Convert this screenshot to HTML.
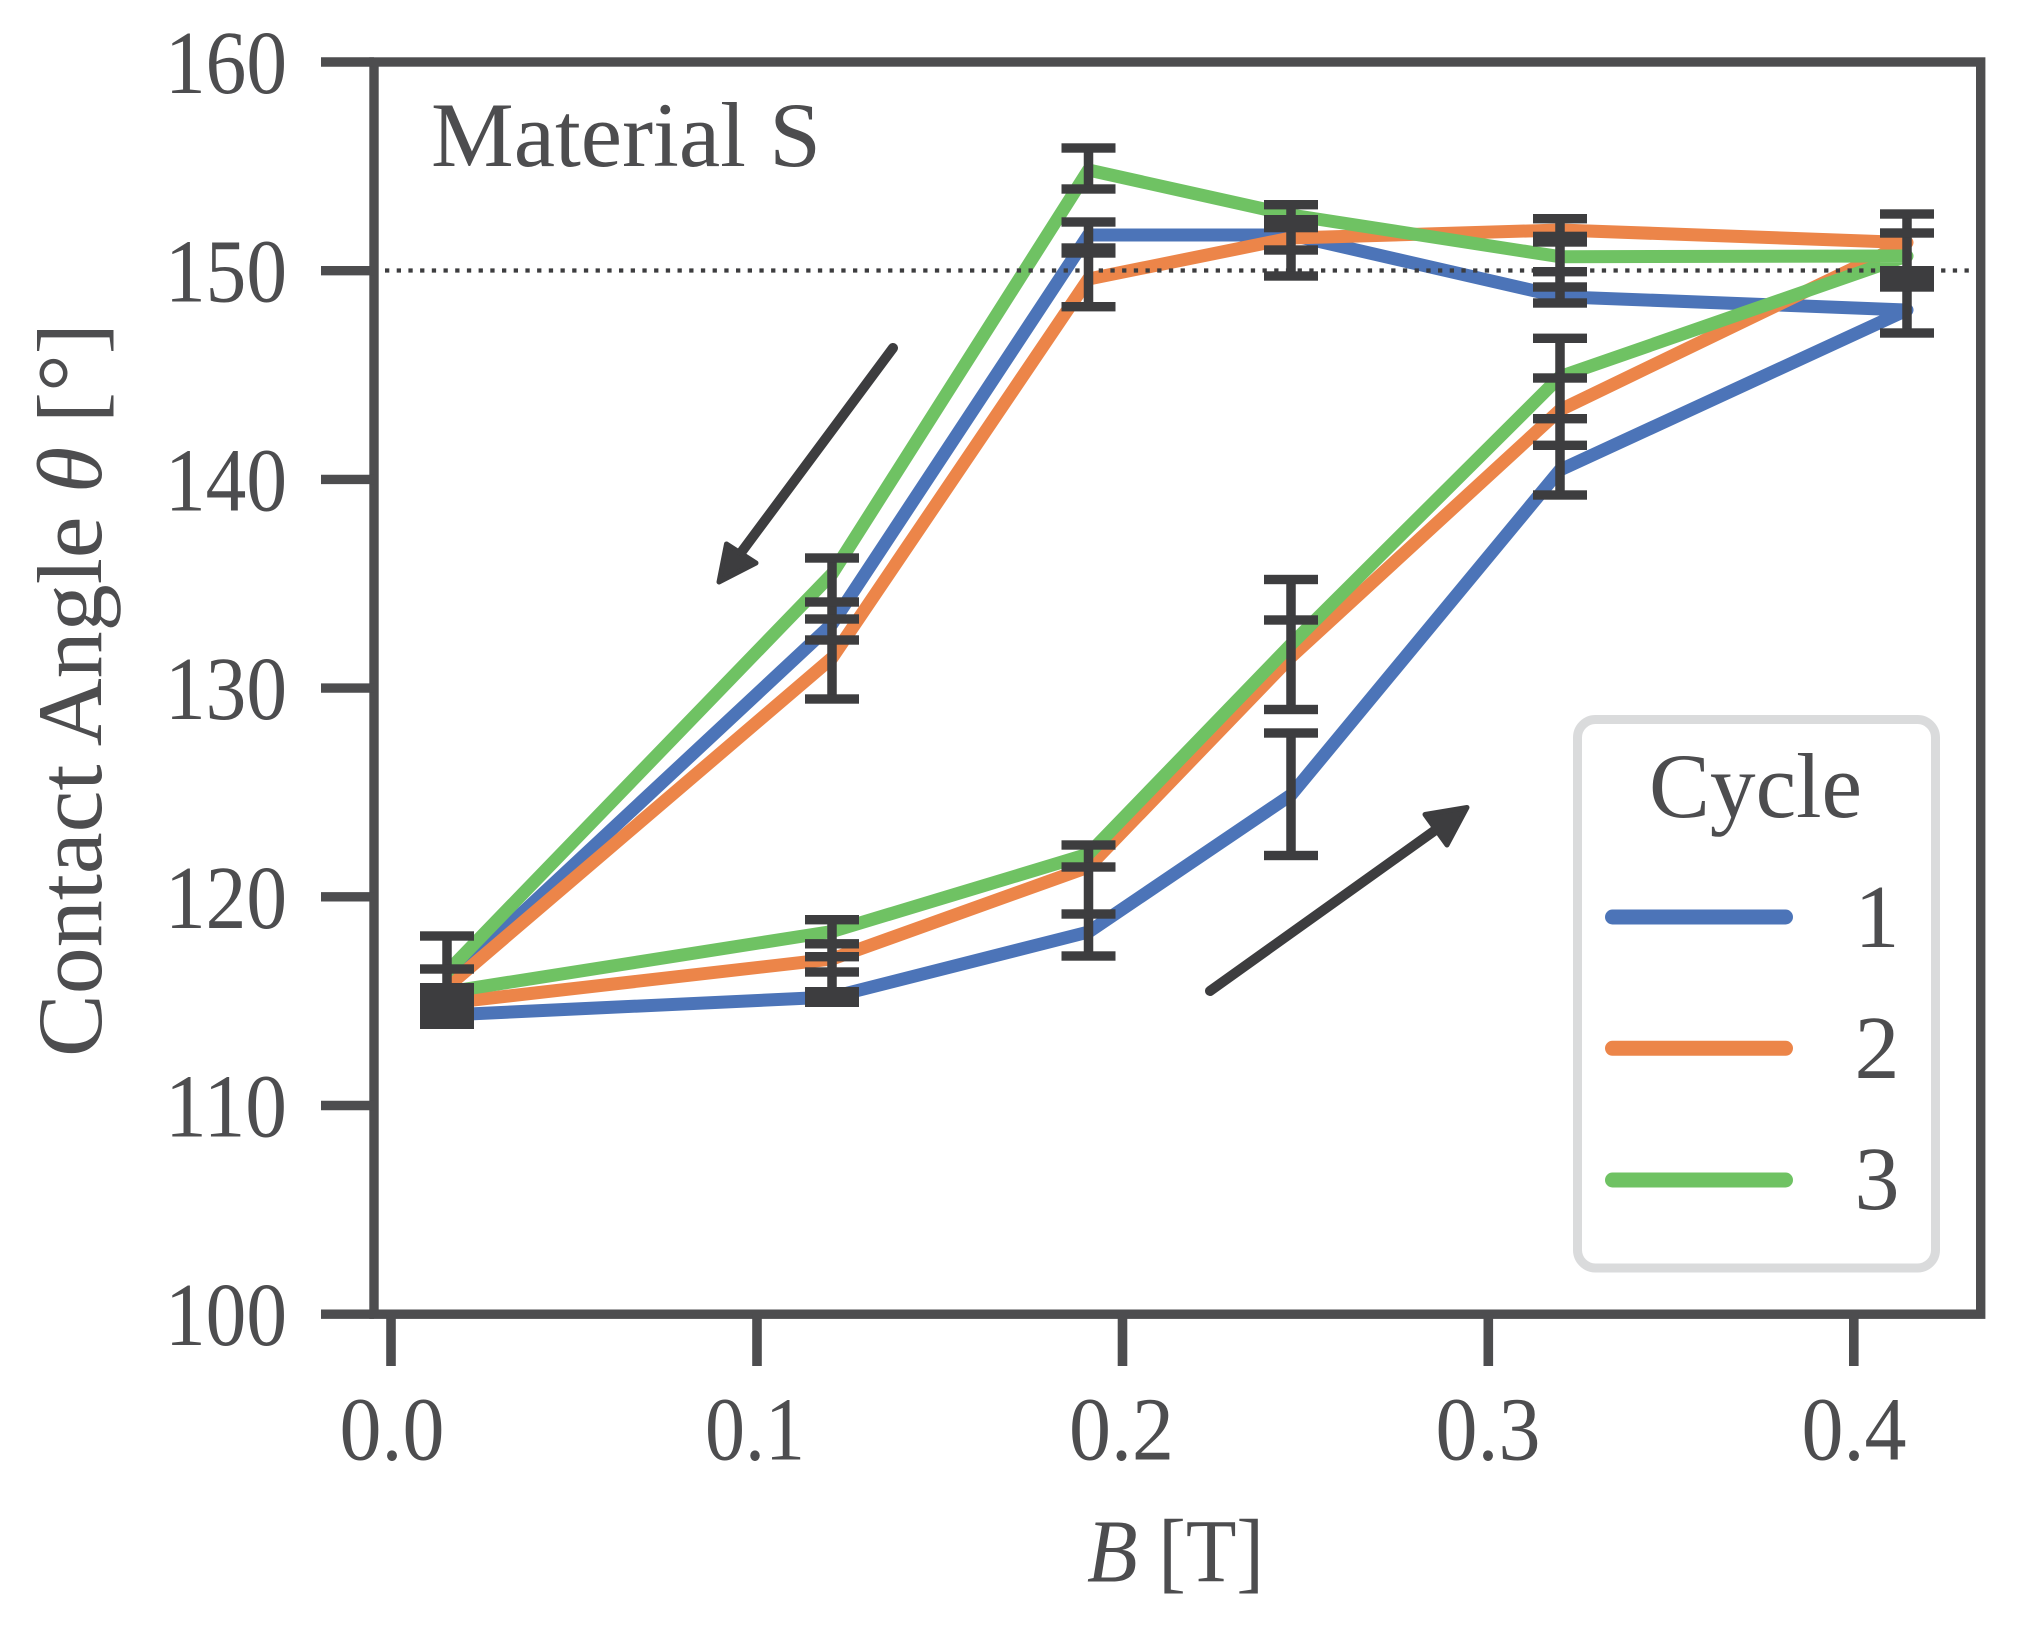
<!DOCTYPE html>
<html>
<head>
<meta charset="utf-8">
<style>
html,body{margin:0;padding:0;background:#fff;}
svg{display:block;}
text{font-family:"Liberation Serif","DejaVu Serif",serif;fill:#4d4d4f;}
</style>
</head>
<body>
<svg width="2019" height="1630" viewBox="0 0 2019 1630" xmlns="http://www.w3.org/2000/svg">
<rect x="0" y="0" width="2019" height="1630" fill="#fff"/>

<!-- data lines -->
<g fill="none" stroke-width="13" stroke-linejoin="round" stroke-linecap="butt">
  <polyline stroke="#4c74b8" points="447,1015 832,997 1088.5,932 1291,795 1560,470 1907,310 1560,296.7 1291,235 1088.5,235 832,624 447,983"/>
  <polyline stroke="#ec8549" points="447,1003 832,959 1088.5,867 1291,657 1560,410 1907,242.5 1560,230 1291,238 1088.5,279 832,658 447,987"/>
  <polyline stroke="#6fc263" points="447,992 832,931.5 1088.5,854 1291,644.5 1560,376.7 1907,256 1560,256.7 1291,215 1088.5,170 832,574 447,972"/>
</g>

<!-- dotted 150 line -->
<line x1="385" y1="270.5" x2="1976" y2="270.5" stroke="#3d3d3f" stroke-width="4.3" stroke-dasharray="4.3 7.4"/>

<!-- error bars -->
<g fill="#3d3d3f" stroke="none">
  <!-- P1 x=447 -->
  <rect x="442.25" y="936" width="9.5" height="93"/>
  <rect x="420" y="931.3" width="54" height="9.4"/>
  <rect x="420" y="964.3" width="54" height="9.4"/>
  <rect x="420" y="983" width="54" height="46"/>
  <!-- P2 upper x=832 -->
  <rect x="827.25" y="558" width="9.5" height="141"/>
  <rect x="805" y="553.3" width="54" height="9.4"/>
  <rect x="805" y="597.3" width="54" height="9.4"/>
  <rect x="805" y="614.3" width="54" height="9.4"/>
  <rect x="805" y="635.3" width="54" height="9.4"/>
  <rect x="805" y="694.3" width="54" height="9.4"/>
  <!-- P2 lower -->
  <rect x="827.25" y="919.7" width="9.5" height="87"/>
  <rect x="805" y="915" width="54" height="9.4"/>
  <rect x="805" y="939.1" width="54" height="9.4"/>
  <rect x="805" y="952" width="54" height="9.4"/>
  <rect x="805" y="967.3" width="54" height="9.4"/>
  <rect x="805" y="987" width="54" height="20"/>
  <!-- P3 upper x=1088.5 -->
  <rect x="1083.75" y="148" width="9.5" height="41"/>
  <rect x="1083.75" y="222" width="9.5" height="84.7"/>
  <rect x="1061.5" y="143.3" width="54" height="9.4"/>
  <rect x="1061.5" y="184.3" width="54" height="9.4"/>
  <rect x="1061.5" y="217.3" width="54" height="9.4"/>
  <rect x="1061.5" y="243.3" width="54" height="14.4"/>
  <rect x="1061.5" y="302" width="54" height="9.4"/>
  <!-- P3 lower -->
  <rect x="1083.75" y="845" width="9.5" height="111"/>
  <rect x="1061.5" y="840.3" width="54" height="9.4"/>
  <rect x="1061.5" y="862.3" width="54" height="9.4"/>
  <rect x="1061.5" y="909.3" width="54" height="9.4"/>
  <rect x="1061.5" y="951.3" width="54" height="9.4"/>
  <!-- P4 upper x=1291 -->
  <rect x="1286.25" y="204.7" width="9.5" height="71.3"/>
  <rect x="1264" y="200" width="54" height="9.4"/>
  <rect x="1264" y="215" width="54" height="17.3"/>
  <rect x="1264" y="245.3" width="54" height="9.4"/>
  <rect x="1264" y="271.3" width="54" height="9.4"/>
  <!-- P4 lower -->
  <rect x="1286.25" y="579.5" width="9.5" height="130"/>
  <rect x="1286.25" y="733" width="9.5" height="122.5"/>
  <rect x="1264" y="574.8" width="54" height="9.4"/>
  <rect x="1264" y="615.3" width="54" height="9.4"/>
  <rect x="1264" y="704.8" width="54" height="9.4"/>
  <rect x="1264" y="728.3" width="54" height="9.4"/>
  <rect x="1264" y="850.8" width="54" height="9.4"/>
  <!-- P5 upper x=1560 -->
  <rect x="1555.25" y="218.7" width="9.5" height="84.3"/>
  <rect x="1533" y="214" width="54" height="9.4"/>
  <rect x="1533" y="231.7" width="54" height="15"/>
  <rect x="1533" y="267" width="54" height="9.4"/>
  <rect x="1533" y="282.3" width="54" height="9.4"/>
  <rect x="1533" y="298.3" width="54" height="9.4"/>
  <!-- P5 lower -->
  <rect x="1555.25" y="338.3" width="9.5" height="156.7"/>
  <rect x="1533" y="333.6" width="54" height="9.4"/>
  <rect x="1533" y="373.3" width="54" height="9.4"/>
  <rect x="1533" y="414" width="54" height="9.4"/>
  <rect x="1533" y="440.6" width="54" height="9.4"/>
  <rect x="1533" y="490.3" width="54" height="9.4"/>
  <!-- P6 x=1907 -->
  <rect x="1902.25" y="214" width="9.5" height="119"/>
  <rect x="1880" y="209.3" width="54" height="9.4"/>
  <rect x="1880" y="228.3" width="54" height="9.4"/>
  <rect x="1880" y="266" width="54" height="25.7"/>
  <rect x="1880" y="328.3" width="54" height="9.4"/>
</g>

<!-- arrows -->
<g stroke="#3d3d3f" fill="#3d3d3f" stroke-linecap="round" stroke-linejoin="round">
  <line x1="893" y1="348" x2="741.5" y2="552" stroke-width="10"/>
  <polygon points="719,582 726.5,544 756,563" stroke-width="5"/>
  <line x1="1210" y1="991" x2="1435.5" y2="830" stroke-width="10"/>
  <polygon points="1467,807.5 1425,814.5 1447,845" stroke-width="5"/>
</g>

<!-- spines -->
<g stroke="#4d4d4f" stroke-width="9.4" fill="none">
  <rect x="374" y="62" width="1606.7" height="1252.2"/>
</g>
<!-- y ticks -->
<g stroke="#4d4d4f" stroke-width="9.4">
  <line x1="321" y1="62" x2="374" y2="62"/>
  <line x1="321" y1="270.7" x2="374" y2="270.7"/>
  <line x1="321" y1="479.4" x2="374" y2="479.4"/>
  <line x1="321" y1="688.1" x2="374" y2="688.1"/>
  <line x1="321" y1="896.8" x2="374" y2="896.8"/>
  <line x1="321" y1="1105.5" x2="374" y2="1105.5"/>
  <line x1="321" y1="1314.2" x2="374" y2="1314.2"/>
</g>
<!-- x ticks -->
<g stroke="#4d4d4f" stroke-width="9.6">
  <line x1="391" y1="1314" x2="391" y2="1366"/>
  <line x1="757" y1="1314" x2="757" y2="1366"/>
  <line x1="1122.5" y1="1314" x2="1122.5" y2="1366"/>
  <line x1="1488.3" y1="1314" x2="1488.3" y2="1366"/>
  <line x1="1853.8" y1="1314" x2="1853.8" y2="1366"/>
</g>

<!-- y tick labels -->
<g font-size="90" text-anchor="end">
  <text x="287" y="93" textLength="122" lengthAdjust="spacingAndGlyphs">160</text>
  <text x="287" y="301.7" textLength="122" lengthAdjust="spacingAndGlyphs">150</text>
  <text x="287" y="510.4" textLength="122" lengthAdjust="spacingAndGlyphs">140</text>
  <text x="287" y="719.1" textLength="122" lengthAdjust="spacingAndGlyphs">130</text>
  <text x="287" y="927.8" textLength="122" lengthAdjust="spacingAndGlyphs">120</text>
  <text x="287" y="1136.5" textLength="122" lengthAdjust="spacingAndGlyphs">110</text>
  <text x="287" y="1345.2" textLength="122" lengthAdjust="spacingAndGlyphs">100</text>
</g>
<!-- x tick labels -->
<g font-size="90" text-anchor="middle">
  <text x="392" y="1459.5" textLength="105" lengthAdjust="spacingAndGlyphs">0.0</text>
  <text x="755" y="1459.5" textLength="100" lengthAdjust="spacingAndGlyphs">0.1</text>
  <text x="1121.5" y="1459.5" textLength="105" lengthAdjust="spacingAndGlyphs">0.2</text>
  <text x="1488" y="1459.5" textLength="105" lengthAdjust="spacingAndGlyphs">0.3</text>
  <text x="1854" y="1459.5" textLength="105" lengthAdjust="spacingAndGlyphs">0.4</text>
</g>

<!-- axis labels -->
<text x="1087" y="1581.5" font-size="90" textLength="177" lengthAdjust="spacingAndGlyphs"><tspan font-style="italic">B</tspan> [T]</text>
<text transform="translate(101,1057) rotate(-90)" x="0" y="0" font-size="92" textLength="734" lengthAdjust="spacingAndGlyphs">Contact Angle <tspan font-style="italic">θ</tspan> [°]</text>

<!-- annotation -->
<text x="431" y="166" font-size="92" textLength="390" lengthAdjust="spacingAndGlyphs">Material S</text>

<!-- legend -->
<rect x="1577.5" y="719.5" width="358" height="548.5" rx="18" ry="18" fill="#ffffff" stroke="#dadbdc" stroke-width="9"/>
<text x="1755.5" y="817" font-size="92" text-anchor="middle" textLength="213" lengthAdjust="spacingAndGlyphs">Cycle</text>
<g stroke-width="15" stroke-linecap="round">
  <line x1="1612.5" y1="917" x2="1785.5" y2="917" stroke="#4c74b8"/>
  <line x1="1612.5" y1="1048.3" x2="1785.5" y2="1048.3" stroke="#ec8549"/>
  <line x1="1612.5" y1="1180" x2="1785.5" y2="1180" stroke="#6fc263"/>
</g>
<g font-size="90" text-anchor="middle">
  <text x="1877" y="947">1</text>
  <text x="1877" y="1078">2</text>
  <text x="1877" y="1209">3</text>
</g>
</svg>
</body>
</html>
